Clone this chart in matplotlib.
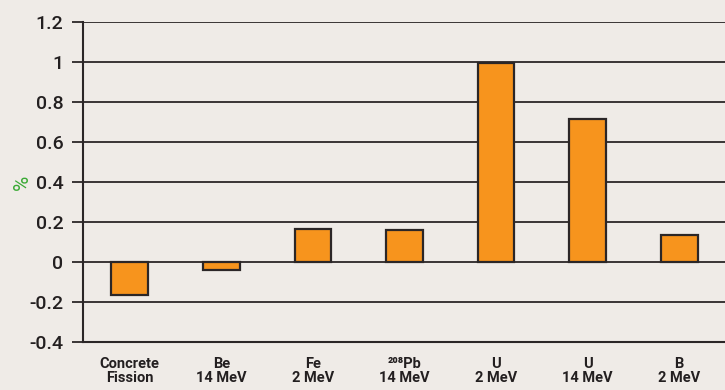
import matplotlib
matplotlib.use('Agg')
import matplotlib.pyplot as plt

# Data
categories = ['Concrete\nFission', 'Be\n14 MeV', 'Fe\n2 MeV', '²⁰⁸Pb\n14 MeV',
              'U\n2 MeV', 'U\n14 MeV', 'B\n2 MeV']
values = [-0.165, -0.04, 0.165, 0.16, 0.995, 0.715, 0.135]
yticks = [-0.4, -0.2, 0, 0.2, 0.4, 0.6, 0.8, 1, 1.2]
ytick_labels = ['-0.4', '-0.2', '0', '0.2', '0.4', '0.6', '0.8', '1', '1.2']

bg = '#efebe7'
bar_color = '#f7941d'
dark = '#2b2627'

plt.rcParams['font.family'] = ['Roboto', 'DejaVu Sans']

fig = plt.figure(figsize=(7.25, 3.9), dpi=100, facecolor=bg)
ax = fig.add_axes([0.1145, 0.123, 0.8855, 0.8205])
ax.set_facecolor(bg)

x = list(range(len(categories)))
ax.set_axisbelow(True)
ax.yaxis.grid(True, color=dark, linewidth=1.3)
ax.bar(x, values, width=0.4, color=bar_color, edgecolor=dark, linewidth=1.6, zorder=3)

ax.set_xlim(-0.51, 6.5)
ax.set_ylim(-0.4, 1.2)
ax.set_yticks(yticks)
ax.set_yticklabels(ytick_labels, fontsize=14, color='#231f20', fontweight='medium')
ax.set_xticks(x)
ax.set_xticklabels(categories, fontsize=10.5, color='#231f20', fontweight='bold',
                   linespacing=0.95)
ax.tick_params(axis='x', length=0, pad=11)
ax.tick_params(axis='y', length=8, width=1.3, color=dark, pad=6)

for side in ['top', 'right']:
    ax.spines[side].set_visible(False)
for side in ['left', 'bottom']:
    ax.spines[side].set_color(dark)
    ax.spines[side].set_linewidth(1.5)

ax.set_ylabel('%', color='#3aaa35', fontsize=15, va='center')
ax.yaxis.set_label_coords(-0.095, 0.5)

fig.savefig('out.png', dpi=100, facecolor=bg)
